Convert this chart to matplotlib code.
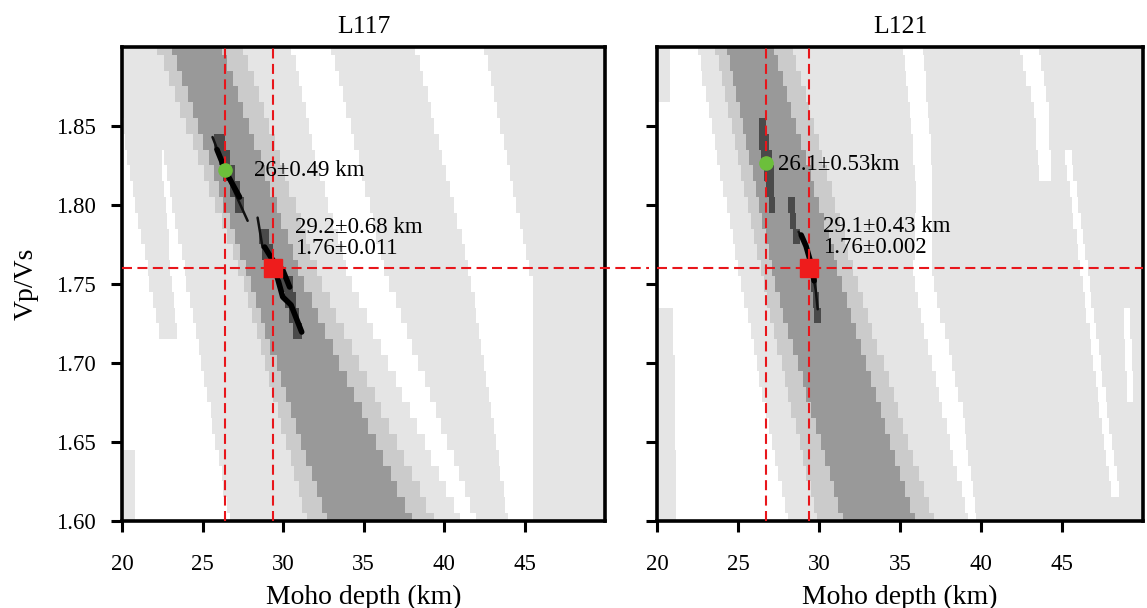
import numpy as np
import matplotlib
matplotlib.use("Agg")
import matplotlib.pyplot as plt
from matplotlib.colors import ListedColormap, BoundaryNorm

plt.rcParams['font.family'] = ['Liberation Serif', 'DejaVu Serif']

# ---------------- data ----------------
titles = ["L117", "L121"]
xticks = [20, 25, 30, 35, 40, 45]
yticks = [1.60, 1.65, 1.70, 1.75, 1.80, 1.85]

# gray levels: 0 white, 1 light, 2 mid-light, 3 mid, 4 dark
gray_colors = ["#ffffff", "#e5e5e5", "#cbcbcb", "#999999", "#4a4a4a"]

# bands: (level, Vp/Vs knots, left depth at knots, right depth at knots), painted in order
l117_bands = [
    (1, [1.90, 1.824, 1.7525, 1.72], [19.5, 20.4, 21.7, 22.3], [22.3, 22.5, 23.07, 23.4]),
    (1, [1.643, 1.60], [19.5, 19.5], [20.8, 20.8]),
    (1, [1.90, 1.83, 1.7525, 1.60], [20.5, 22.6, 24.0, 26.7], [30.55, 32.0, 34.15, 41.0]),
    (1, [1.90, 1.7525, 1.60], [33.0, 36.5, 42.0], [38.25, 41.7, 44.0]),
    (1, [1.90, 1.7525, 1.60], [42.5, 45.5, 45.5], [50.5, 50.5, 50.5]),
    (2, [1.90, 1.7525, 1.60], [22.2, 27.5, 31.5], [27.5, 32.3, 39.4]),
    (3, [1.90, 1.7525, 1.60], [23.07, 27.9, 32.7], [26.18, 31.2, 38.0]),
    (4, [1.843, 1.800], [25.6, 27.0], [26.3, 27.6]),
    (4, [1.784, 1.764], [28.4, 28.9], [29.0, 29.6]),
    (4, [1.750, 1.720], [29.9, 30.6], [30.6, 31.2]),
]
# black cores: thin traces and thick blobs (depth, Vp/Vs)
l117_thin_h = [[25.62, 26.3, 27.0, 27.8], [28.42, 28.73, 28.86]]
l117_thin_k = [[1.843, 1.825, 1.808, 1.790], [1.792, 1.773, 1.7734]]
l117_thick_h = [[25.9, 26.5, 27.3], [28.86, 29.35, 29.98, 30.41], [29.35, 29.98, 30.5, 31.16]]
l117_thick_k = [[1.835, 1.820, 1.805], [1.7734, 1.7652, 1.7589, 1.7481],
                [1.7652, 1.7418, 1.7367, 1.7196]]

l121_bands = [
    (1, [1.90, 1.868], [19.5, 19.5], [20.8, 20.8]),
    (1, [1.732, 1.60], [19.5, 19.5], [21.0, 21.24]),
    (1, [1.90, 1.7525, 1.60], [22.48, 25.15, 28.06], [50.5, 50.5, 50.5]),
    (0, [1.90, 1.814, 1.7525, 1.668, 1.60], [35.19, 36.0, 35.81, 37.67, 39.22],
     [36.43, 37.05, 37.05, 38.91, 39.71]),
    (0, [1.90, 1.86, 1.82], [42.4, 43.3, 43.6], [43.6, 44.2, 44.3]),
    (0, [1.83, 1.62], [45.2, 48.0], [45.6, 48.5]),
    (0, [1.729, 1.678], [48.8, 49.0], [49.2, 49.4]),
    (2, [1.90, 1.7525, 1.60], [23.6, 26.5, 29.9], [28.37, 32.3, 37.1]),
    (3, [1.90, 1.7525, 1.60], [24.35, 27.2, 31.5], [27.2, 31.35, 35.87]),
    (4, [1.852, 1.83, 1.801], [26.26, 26.4, 26.9], [26.7, 27.1, 27.3]),
    (4, [1.799, 1.778], [28.1, 28.4], [28.5, 28.8]),
    (4, [1.752, 1.733], [29.5, 29.7], [29.9, 30.1]),
]
l121_thin_h = [[28.74, 29.05, 29.36, 29.6, 29.8, 29.92]]
l121_thin_k = [[1.783, 1.778, 1.770, 1.757, 1.746, 1.734]]
l121_thick_h = [[28.9, 29.2, 29.45, 29.7]]
l121_thick_k = [[1.781, 1.774, 1.765, 1.752]]

# best-fit picks
green_h = [26.4, 26.7]
green_k = [1.822, 1.8266]
red_h = [29.35, 29.38]
red_k = [1.760, 1.760]
labels_a = ["26\u00b10.49 km", "26.1\u00b10.53km"]
labels_b = ["29.2\u00b10.68 km\n1.76\u00b10.011", "29.1\u00b10.43 km\n1.76\u00b10.002"]
label_a_pos = [(28.2, 1.822), (27.5, 1.8255)]
label_b_pos = [(30.75, 1.779), (30.25, 1.7795)]

# ---------------- drawing ----------------
hgrid = np.arange(19.5, 50.51, 0.1)
kgrid = np.arange(1.595, 1.9051, 0.01)
hc = 0.5 * (hgrid[:-1] + hgrid[1:])
kc = 0.5 * (kgrid[:-1] + kgrid[1:])
HH, KK = np.meshgrid(hc, kc)


def build(bands):
    img = np.zeros_like(HH)
    for lvl, ks, hl, hr in bands:
        ks = np.asarray(ks, float)
        order = np.argsort(ks)
        left = np.interp(kc, ks[order], np.asarray(hl, float)[order])[:, None]
        right = np.interp(kc, ks[order], np.asarray(hr, float)[order])[:, None]
        m = ((HH >= left) & (HH <= right) &
             (KK >= ks.min() - 0.004) & (KK <= ks.max() + 0.004))
        img[m] = lvl
    return img


cmap = ListedColormap(gray_colors)
norm = BoundaryNorm(np.arange(-0.5, 5.5, 1), cmap.N)

fig = plt.figure(figsize=(11.47, 6.08), dpi=100)
ax1 = fig.add_axes([0.1064, 0.1431, 0.4211, 0.7796])
ax2 = fig.add_axes([0.5728, 0.1431, 0.4237, 0.7796])

panels = [(ax1, l117_bands, l117_thin_h, l117_thin_k, l117_thick_h, l117_thick_k),
          (ax2, l121_bands, l121_thin_h, l121_thin_k, l121_thick_h, l121_thick_k)]
red = "#e8161b"
dash = (0, (4.8, 2.6))
for i, (ax, bands, th, tk, bh, bk) in enumerate(panels):
    img = build(bands)
    ax.pcolormesh(hgrid, kgrid, img, cmap=cmap, norm=norm, shading='flat')
    for h, k in zip(th, tk):
        ax.plot(h, k, color="#111111", lw=1.8, solid_capstyle='round', zorder=3)
    for h, k in zip(bh, bk):
        ax.plot(h, k, color="black", lw=4.0, solid_capstyle='round', zorder=3)
    ax.axvline(green_h[i], color=red, lw=1.5, ls=dash, zorder=4)
    ax.axvline(red_h[i], color=red, lw=1.5, ls=dash, zorder=4)
    if i == 0:
        ax.plot([20, 52.7], [red_k[i], red_k[i]], color=red, lw=1.5,
                ls=dash, zorder=4, clip_on=False)
    else:
        ax.axhline(red_k[i], color=red, lw=1.5, ls=dash, zorder=4)
    ax.plot(green_h[i], green_k[i], 'o', color="#6cbf3b", ms=9.5, zorder=5)
    ax.plot(red_h[i], red_k[i], 's', color="#ee1c1c", ms=12.5, zorder=5)
    ax.text(label_a_pos[i][0], label_a_pos[i][1], labels_a[i], fontsize=16.5,
            va='center', ha='left', zorder=6)
    ax.text(label_b_pos[i][0], label_b_pos[i][1], labels_b[i], fontsize=16.5,
            va='center', ha='left', linespacing=1.0, zorder=6)
    ax.set_xlim(20, 50)
    ax.set_ylim(1.60, 1.90)
    ax.set_xticks(xticks)
    ax.set_yticks(yticks)
    ax.set_xticklabels([str(t) for t in xticks])
    if i == 0:
        ax.set_yticklabels(["%.2f" % t for t in yticks])
        ax.set_ylabel("Vp/Vs", fontsize=20, labelpad=12)
    else:
        ax.set_yticklabels([])
    ax.tick_params(direction='out', length=8, width=2.2, labelsize=16.5)
    ax.tick_params(axis='x', pad=15.5)
    ax.tick_params(axis='y', pad=11)
    for sp in ax.spines.values():
        sp.set_linewidth(2.6)
    ax.set_xlabel("Moho depth (km)", fontsize=20, labelpad=7)
    ax.set_title(titles[i], fontsize=18.5, pad=10)

fig.savefig("out.png", dpi=100)
